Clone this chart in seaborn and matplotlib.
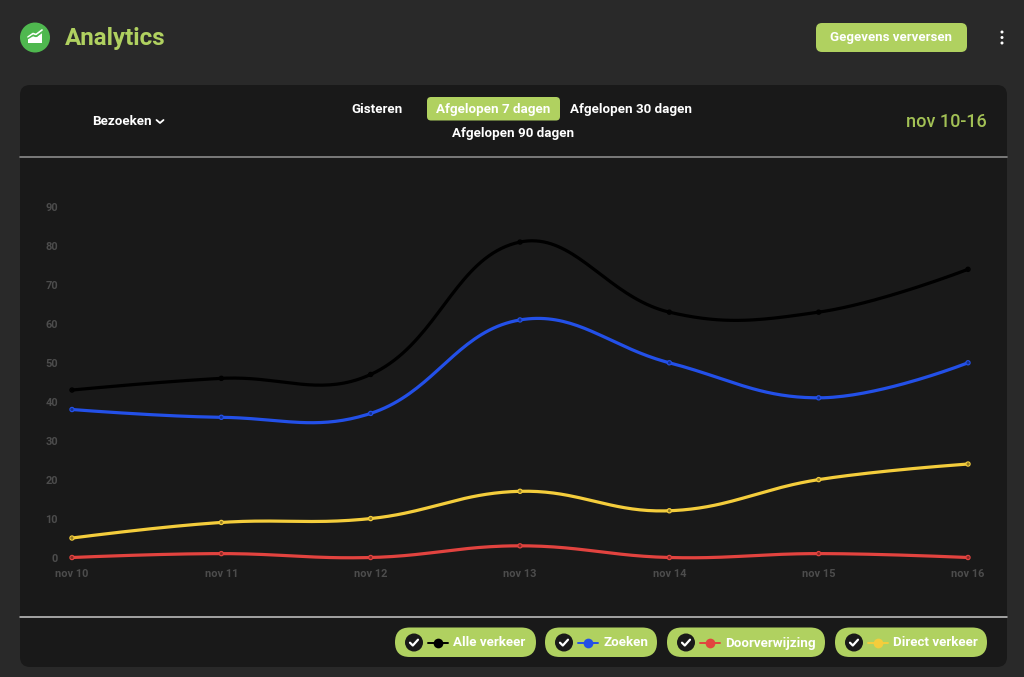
#%%
import numpy as np
import pandas as pd
import matplotlib
matplotlib.use('Agg')
import matplotlib.pyplot as plt
from matplotlib.patches import FancyBboxPatch, Circle, Polygon
import seaborn as sns

days = ['nov 10','nov 11','nov 12','nov 13','nov 14','nov 15','nov 16']
alle = [43,46,47,81,63,63,74]
zoeken = [38,36,37,61,50,41,50]
doorverwijzing = [0,1,0,3,0,1,0]
direct = [5,9,10,17,12,20,24]
y_ticks = [0,10,20,30,40,50,60,70,80,90]
legend_names = ['Alle verkeer','Zoeken','Doorverwijzing','Direct verkeer']
ranges = ['Gisteren','Afgelopen 7 dagen','Afgelopen 30 dagen','Afgelopen 90 dagen']

colors = ['#000000','#2350e8','#e2433f','#f4cd3c']
GREEN = '#b0d160'
PANEL = '#191919'
BG = '#292929'

sns.set_theme(style='dark')
plt.rcParams['font.family'] = ['Roboto','DejaVu Sans']

#%% same curve the web chart draws: bezier between the read values, tension .4
def smooth(vals, sx=149.33, sy=3.9, t=.4, n=40):
    x = np.arange(len(vals))*sx
    y = np.array(vals,dtype=float)*sy
    p = np.column_stack([x,y])
    c_in, c_out = p.copy(), p.copy()
    for i in range(1,len(p)-1):
        d01 = np.hypot(*(p[i]-p[i-1]))
        d12 = np.hypot(*(p[i+1]-p[i]))
        c_in[i] = p[i]-t*d01/(d01+d12)*(p[i+1]-p[i-1])
        c_out[i] = p[i]+t*d12/(d01+d12)*(p[i+1]-p[i-1])
    out = []
    for i in range(len(p)-1):
        u = np.linspace(0,1,n)[:,None]
        out.append((1-u)**3*p[i]+3*(1-u)**2*u*c_out[i]+3*(1-u)*u**2*c_in[i+1]+u**3*p[i+1])
    out = np.vstack(out)
    return out[:,0]/sx, out[:,1]/sy

rows, pts = [], []
for name,vals in zip(legend_names,[alle,zoeken,doorverwijzing,direct]):
    xs,ys = smooth(vals)
    rows.append(pd.DataFrame({'x':xs,'y':ys,'serie':name}))
    pts.append(pd.DataFrame({'x':range(len(vals)),'y':vals,'serie':name}))
curves = pd.concat(rows)
points = pd.concat(pts)
palette = dict(zip(legend_names,colors))

#%%
W,H = 1024,677
fig = plt.figure(figsize=(W/100,H/100),dpi=100,facecolor=BG)

ui = fig.add_axes([0,0,1,1])
ui.set_xlim(0,W); ui.set_ylim(H,0); ui.axis('off')

def box(x0,y0,x1,y1,r,color,z=1):
    ui.add_patch(FancyBboxPatch((x0+r,y0+r),x1-x0-2*r,y1-y0-2*r,
        boxstyle=f'round,pad={r},rounding_size={r}',fc=color,ec='none',zorder=z))

def label(x,y,s,size=9.6,color='white',ha='center',weight='bold'):
    return ui.text(x,y,s,fontsize=size,color=color,ha=ha,va='center_baseline',fontweight=weight,zorder=5)

def check(cx,cy):
    ui.plot([cx-4,cx-1.2,cx+4],[cy+.2,cy+3,cy-2.8],color='white',lw=1.6,zorder=6,solid_capstyle='round')

# header
ui.add_patch(Circle((35,37.5),15,fc='#4fb84f',ec='none'))
ui.add_patch(Polygon([(28,43),(28,38),(33,36),(37,37),(42,32),(42,43)],fc='white',ec='none',zorder=3))
ui.plot([28,33,36,42],[37,33.5,34.5,30],color='white',lw=1.2,zorder=3)
ui.plot([28,33,36,42],[38.5,35.5,36.5,32.5],color='#4fb84f',lw=1,zorder=3)
label(65,36,'Analytics',size=17.4,color=GREEN,ha='left',weight='bold')
box(816,23,967,52,6,GREEN)
label(891.5,36.5,'Gegevens verversen',size=9.5)
for yy in (32,37.5,43):
    ui.add_patch(Circle((1002,yy),1.5,fc='white',ec='none'))

# panel
box(20,85,1007,667,10,PANEL,z=0)
ui.plot([20,1007],[157,157],color='#8a8a8a',lw=1.2,zorder=2)
ui.plot([20,1007],[616.5,616.5],color='#c8c8c8',lw=1.1,zorder=2)
label(92.5,120,'Bezoeken',ha='left')
ui.plot([156.5,160,163.5],[120,123,120],color='white',lw=1.3,zorder=5)
box(427,97,560,120.5,4,GREEN)
label(376.5,108,ranges[0])
label(493.5,108,ranges[1])
label(630.5,108,ranges[2])
label(513.5,132,ranges[3])
label(987,120,'nov 10-16',size=13,color='#a3c155',ha='right',weight='medium')

# legend pills
pills = [(395,536),(545,657),(667,825),(835,987)]
for (x0,x1),name,c in zip(pills,legend_names,colors):
    box(x0,627.5,x1,657,14.7,GREEN)
    ui.add_patch(Circle((x0+19,642.5),9,fc=PANEL,ec='none',zorder=4))
    check(x0+19,642.5)
    ui.plot([x0+33,x0+53],[642.5,642.5],color=c,lw=1.4,zorder=4)
    ui.plot([x0+43],[642.5],'o',ms=7,color=c,mec='none',zorder=4)
    label(x0+58,641.5,name,size=9.6,ha='left')

#%% chart
ax = fig.add_axes([72/W,1-557.5/H,896/W,350.5/H])
ax.patch.set_alpha(0)
sns.lineplot(data=curves,x='x',y='y',hue='serie',palette=palette,estimator=None,sort=False,
    lw=2.3,legend=False,ax=ax,clip_on=False)
sns.scatterplot(data=points,x='x',y='y',hue='serie',palette=palette,s=9,linewidth=.9,
    legend=False,ax=ax,clip_on=False,zorder=4)
dots = ax.collections[-1]
dots.set_edgecolors(dots.get_facecolors())
dots.set_facecolors('#00000066')
ax.set_xlim(0,6); ax.set_ylim(0,90)
ax.set_xticks(range(7),days)
ax.set_yticks(y_ticks)
ax.set_xlabel(''); ax.set_ylabel('')
ax.grid(False)
sns.despine(ax=ax,left=True,bottom=True)
ax.tick_params(axis='both',length=0,labelsize=7.9,labelcolor='#4c4c4c')
ax.tick_params(axis='x',pad=8)
ax.tick_params(axis='y',pad=10)
for t in ax.get_xticklabels()+ax.get_yticklabels():
    t.set_fontweight('bold')

fig.savefig('out.png',dpi=100,facecolor=BG)
